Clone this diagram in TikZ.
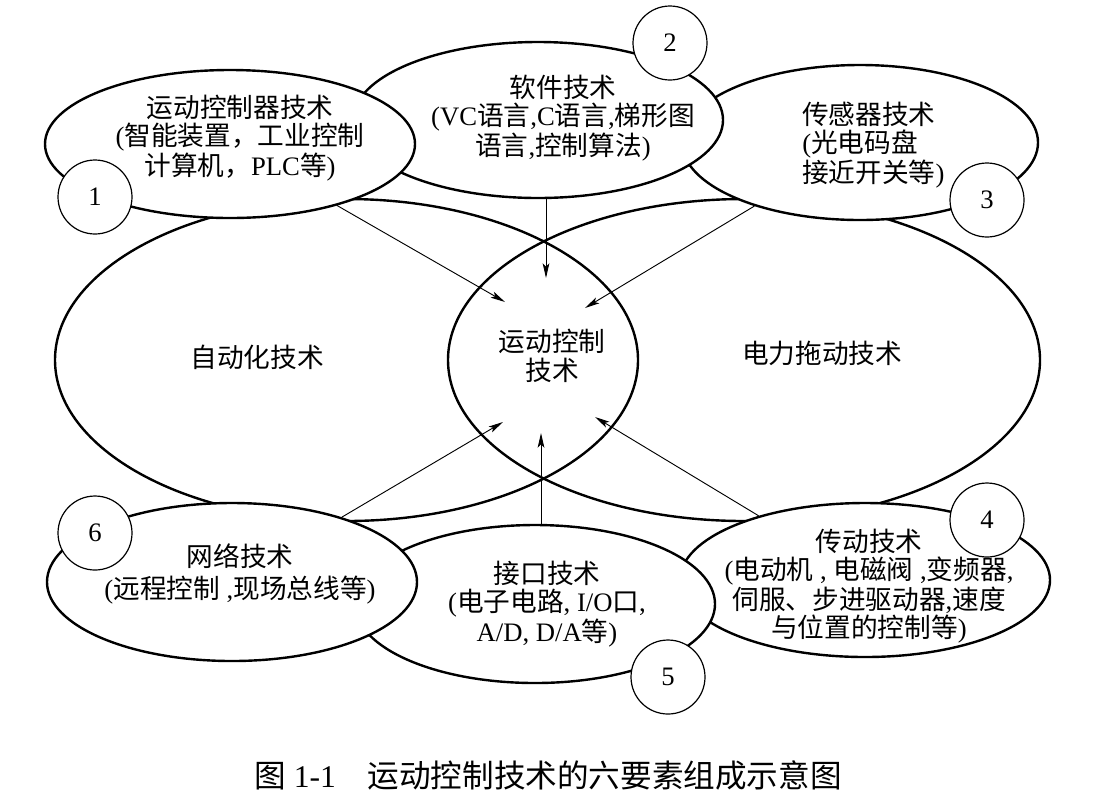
\documentclass[tikz,border=0pt]{standalone}
\usepackage{fontspec}
\setmainfont{Liberation Serif}
\newfontfamily\zhf{Noto Sans CJK SC}
\usetikzlibrary{shapes.geometric,arrows.meta}
\newcommand\zh[1]{{\zhf #1}}
\begin{document}
\begin{tikzpicture}[x=0.75pt,y=-0.75pt,
  every node/.style={font=\fontsize{20}{21}\selectfont},
  big/.style={ellipse,draw,line width=1.8pt,inner sep=0pt},
  small/.style={ellipse,draw,fill=white,line width=1.8pt,inner sep=0pt},
  num/.style={circle,draw,fill=white,line width=0.9pt,minimum size=55.5pt,inner sep=0pt},
  arr/.style={line width=0.7pt,-{Stealth[length=11pt,width=5pt,inset=2.5pt]}},
  lbl/.style={align=center,inner sep=0pt}]
\path[use as bounding box,fill=white] (0,0) rectangle (1094,808);
% big ellipses
\node[big,minimum width=437.25pt,minimum height=241.5pt] (bl) at (346.5,360) {};
\node[big,minimum width=444pt,minimum height=241.5pt] (br) at (744,360) {};
% top small ellipses
\node[small,minimum width=267pt,minimum height=116.25pt] (e3) at (860,142.5) {};
\node[small,minimum width=277.5pt,minimum height=117pt] (e2) at (538,120) {};
\node[small,minimum width=277.5pt,minimum height=111pt] (e1) at (230,144) {};
% bottom small ellipses
\node[small,minimum width=277.5pt,minimum height=115.5pt] (e4) at (865,580) {};
\node[small,minimum width=270pt,minimum height=118.5pt] (e5) at (535,604) {};
\node[small,minimum width=277.5pt,minimum height=118.5pt] (e6) at (232,582) {};
% number circles
\node[num] (n1) at (95,197) {1};
\node[num] (n2) at (670,43) {2};
\node[num] (n3) at (987,200) {3};
\node[num] (n4) at (987,520) {4};
\node[num] (n5) at (668,677) {5};
\node[num] (n6) at (95,533) {6};
% arrow tips
\coordinate (t1) at (505,302);
\coordinate (t2) at (546,278);
\coordinate (t3) at (585,308);
\coordinate (t4) at (595,417);
\coordinate (t5) at (541,433);
\coordinate (t6) at (503,422);
\draw[arr] (e1) -- (t1);
\draw[arr] (t2 |- e2.south) -- (t2);
\draw[arr] (e3) -- (t3);
\draw[arr] (e4) -- (t4);
\draw[arr] (t5 |- e5.north) -- (t5);
\draw[arr] (e6) -- (t6);
% texts
\node[lbl] (x1) at (240,138) {\zh{运动控制器技术}\\(\zh{智能装置，工业控制}\\\zh{计算机，}PLC\zh{等})};
\node[lbl] (x2) at (563,118) {\zh{软件技术}\\(VC\zh{语言},C\zh{语言},\zh{梯形图}\\\zh{语言},\zh{控制算法})};
\node[lbl,align=left,anchor=west] (x3) at (802,145) {\zh{传感器技术}\\(\zh{光电码盘}\\\zh{接近开关等})};
\node[lbl] (x6) at (240,574) {\zh{网络技术}\\[3pt](\zh{远程控制} ,\zh{现场总线等})};
\node[lbl] (x5) at (547,604) {\zh{接口技术}\\(\zh{电子电路}, I/O\zh{口},\\A/D, D/A\zh{等})};
\node[lbl] (x4) at (869,586) {\zh{传动技术}\\(\zh{电动机} , \zh{电磁阀} ,\zh{变频器},\\\zh{伺服、步进驱动器},\zh{速度}\\\zh{与位置的控制等})};
\node[lbl] (xl) at (257,357) {\zh{自动化技术}};
\node[lbl] (xr) at (822,353) {\zh{电力拖动技术}};
\node[lbl,font=\fontsize{20}{22}\selectfont] (xc) at (552,356) {\zh{运动控制}\\\zh{技术}};
\node[lbl,font=\fontsize{23.7}{26}\selectfont] (cap) at (548,775) {\zh{图}~1-1\hspace{1em}\zh{运动控制技术的六要素组成示意图}};
\end{tikzpicture}
\end{document}
